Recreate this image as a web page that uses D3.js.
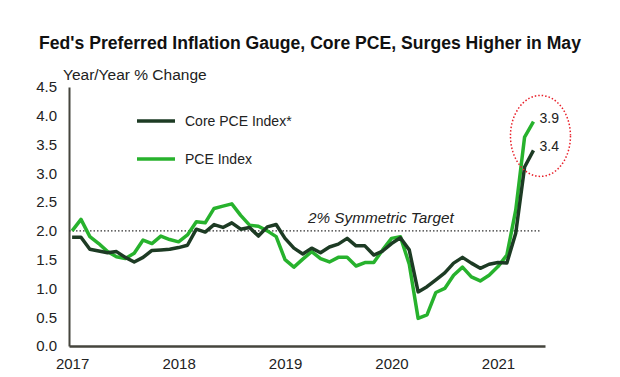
<!DOCTYPE html>
<html>
<head>
<meta charset="utf-8">
<script src="https://d3js.org/d3.v7.min.js"></script>
<style>
  body { margin: 0; background: #fff; }
  text { font-family: "Liberation Sans", Arial, sans-serif; }
</style>
</head>
<body>
<div id="chart"></div>
<script>
// Core PCE vs PCE, monthly Jan 2017 - May 2021

const yearLabels = ["2017", "2018", "2019", "2020", "2021"];
const yTicks = [0, 0.5, 1, 1.5, 2, 2.5, 3, 3.5, 4, 4.5];

const corePce = [
    1.89, 1.89, 1.68, 1.65, 1.62, 1.64, 1.54, 1.46, 1.54, 1.66, 1.67, 1.68,
    1.71, 1.75, 2.03, 1.98, 2.11, 2.06, 2.14, 2.03, 2.06, 1.91, 2.07, 2.11,
    1.87, 1.70, 1.60, 1.70, 1.62, 1.72, 1.77, 1.87, 1.74, 1.74, 1.58, 1.65,
    1.78, 1.88, 1.67, 0.94, 1.03, 1.15, 1.27, 1.44, 1.54, 1.44, 1.35, 1.42,
    1.45, 1.44, 1.96, 3.11, 3.40
];

const pce = [
    2.00, 2.20, 1.90, 1.78, 1.64, 1.55, 1.52, 1.61, 1.84, 1.78, 1.91, 1.85,
    1.81, 1.93, 2.16, 2.14, 2.39, 2.43, 2.47, 2.27, 2.10, 2.08, 2.00, 1.90,
    1.50, 1.37, 1.51, 1.64, 1.52, 1.46, 1.54, 1.54, 1.39, 1.45, 1.45, 1.67,
    1.87, 1.90, 1.42, 0.48, 0.54, 0.93, 1.00, 1.23, 1.37, 1.20, 1.13, 1.23,
    1.38, 1.58, 2.36, 3.63, 3.90
];

const target = 2;

const width = 620,
    height = 377,
    margin = ({ top: 87, right: 75, bottom: 31, left: 69 });

const darkGreen = "#1d3b24",
    brightGreen = "#27b22d";

const svg = d3.select("#chart")
    .append("svg")
    .attr("width", width)
    .attr("height", height)
    .attr("viewBox", [0, 0, width, height]);

const x = d3.scaleLinear()
    .domain([-0.35, 53.3])
    .range([margin.left, width - margin.right]);

const y = d3.scaleLinear()
    .domain([0, 4.5])
    .range([height - margin.bottom, margin.top]);

// title
svg.append("text")
    .attr("x", width / 2)
    .attr("y", 49)
    .attr("text-anchor", "middle")
    .style("font-weight", "bold")
    .style("font-size", "17.6px")
    .attr("fill", "#111")
    .text("Fed's Preferred Inflation Gauge, Core PCE, Surges Higher in May");

svg.append("text")
    .attr("x", 63)
    .attr("y", 80)
    .style("font-size", "15.5px")
    .attr("fill", "#222")
    .text("Year/Year % Change");

// y axis
const yAxis = svg.append("g")
    .attr("transform", `translate(${margin.left},0)`)
    .call(d3.axisLeft(y).tickValues(yTicks).tickSize(0).tickPadding(12)
        .tickFormat(d3.format(".1f")));
yAxis.select(".domain").attr("stroke", "#45453d").attr("stroke-width", 2);
yAxis.selectAll("text")
    .style("font-family", "'Liberation Sans', Arial, sans-serif")
    .style("font-size", "15px")
    .attr("fill", "#222");

// x axis
const xAxis = svg.append("g")
    .attr("transform", `translate(0,${height - margin.bottom})`)
    .call(d3.axisBottom(x).tickValues([0, 12, 24, 36, 48]).tickSize(0).tickPadding(12)
        .tickFormat((d, i) => yearLabels[i]));
xAxis.select(".domain").attr("stroke", "#45453d").attr("stroke-width", 2.5);
xAxis.selectAll("text")
    .style("font-family", "'Liberation Sans', Arial, sans-serif")
    .style("font-size", "15px")
    .attr("fill", "#222");

// 2% target
svg.append("line")
    .attr("x1", margin.left)
    .attr("x2", x(52.7))
    .attr("y1", y(target))
    .attr("y2", y(target))
    .attr("stroke", "#333")
    .attr("stroke-width", 1.2)
    .attr("stroke-dasharray", "1.5 2");

svg.append("text")
    .attr("x", 308)
    .attr("y", y(target) - 8)
    .style("font-size", "15.3px")
    .style("font-style", "italic")
    .attr("fill", "#222")
    .text("2% Symmetric Target");

// lines
const line = d3.line()
    .x((d, i) => x(i))
    .y(d => y(d));

svg.append("path")
    .datum(pce)
    .attr("fill", "none")
    .attr("stroke", brightGreen)
    .attr("stroke-width", 3.5)
    .attr("stroke-linejoin", "round")
    .attr("d", line);

svg.append("path")
    .datum(corePce)
    .attr("fill", "none")
    .attr("stroke", darkGreen)
    .attr("stroke-width", 3.5)
    .attr("stroke-linejoin", "round")
    .attr("d", line);

// legend
const legend = [
    { name: "Core PCE Index*", color: darkGreen, y: 121 },
    { name: "PCE Index", color: brightGreen, y: 159 }
];
legend.forEach(l => {
    svg.append("line")
        .attr("x1", 137).attr("x2", 175)
        .attr("y1", l.y).attr("y2", l.y)
        .attr("stroke", l.color)
        .attr("stroke-width", 3.5);
    svg.append("text")
        .attr("x", 185)
        .attr("y", l.y + 5)
        .style("font-size", "14px")
        .attr("fill", "#222")
        .text(l.name);
});

// latest values
const last = corePce.length - 1;
[pce[last], corePce[last]].forEach(v => {
    svg.append("text")
        .attr("x", x(last) + 6)
        .attr("y", y(v) + 1)
        .style("font-size", "14px")
        .attr("fill", "#222")
        .text(d3.format(".1f")(v));
});

svg.append("ellipse")
    .attr("cx", x(last) + 7)
    .attr("cy", (y(pce[last]) + y(corePce[last])) / 2)
    .attr("rx", 30)
    .attr("ry", 40.5)
    .attr("fill", "none")
    .attr("stroke", "#e8202a")
    .attr("stroke-width", 1.5)
    .attr("stroke-dasharray", "1.5 2");
</script>
</body>
</html>
